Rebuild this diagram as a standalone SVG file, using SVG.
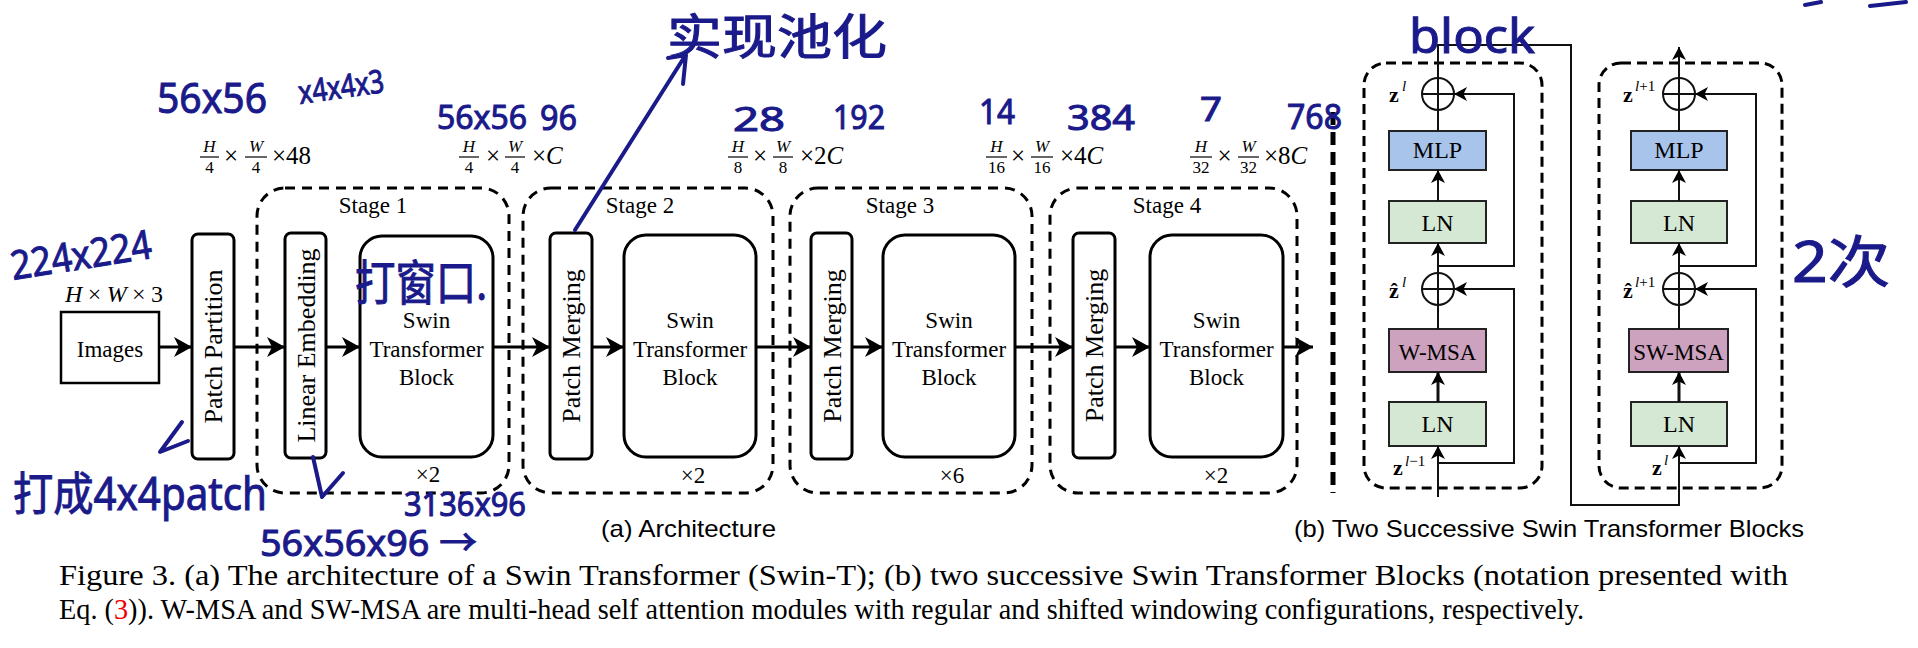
<svg xmlns="http://www.w3.org/2000/svg" width="1918" height="648" viewBox="0 0 1918 648">
<style>
.ser{font-family:"Liberation Serif","Times New Roman",serif;fill:#000}
.it{font-style:italic}
.sans{font-family:"Liberation Sans",Arial,sans-serif;fill:#000}
.box{fill:#fff;stroke:#000;stroke-width:3}
.stage{fill:none;stroke:#000;stroke-width:3;stroke-dasharray:10 7}
.blk{fill:none;stroke:#000;stroke-width:3;stroke-dasharray:10 6}
.bar{stroke:#000;stroke-width:1.2}
.thick{fill:none;stroke:#000;stroke-width:3}
.thin{fill:none;stroke:#111;stroke-width:2}
.sbox{stroke:#222;stroke-width:2}
.mlp{fill:#a9c4eb}
.ln{fill:#d5e8d4}
.msa{fill:#cda2be}
.hw{fill:#1a1a8a;stroke:#1a1a8a;stroke-width:1;font-family:"Noto Sans","Noto Sans CJK SC",sans-serif}
.hwl{fill:none;stroke:#1a1a8a;stroke-width:4;stroke-linecap:round;stroke-linejoin:round}
</style>
<defs>
<marker id="ah" viewBox="0 -10 18 20" refX="18" refY="0" markerWidth="18" markerHeight="20" markerUnits="userSpaceOnUse" orient="auto"><path d="M0,-10 L18,0 L0,10 L5,0 z" fill="#000"/></marker>
<marker id="ahs" viewBox="0 -7 13 14" refX="13" refY="0" markerWidth="13" markerHeight="14" markerUnits="userSpaceOnUse" orient="auto"><path d="M0,-7 L13,0 L0,7 L3.5,0 z" fill="#000"/></marker>
</defs>
<rect width="1918" height="648" fill="#fff"/>

<!-- dimension labels -->
<g id="dims" class="ser" font-size="25">
  <g id="dim0"><text x="114" y="302" font-size="24" textLength="98" lengthAdjust="spacing" text-anchor="middle"><tspan class="it">H</tspan>×<tspan class="it">W</tspan>×3</text></g>
  <g id="dim1">
    <text x="209.5" y="152" font-size="17" class="it" text-anchor="middle">H</text><line class="bar" x1="200" y1="157" x2="219" y2="157"/><text x="209.5" y="173" font-size="17" text-anchor="middle">4</text>
    <text x="231" y="164" text-anchor="middle">×</text>
    <text x="256" y="152" font-size="17" class="it" text-anchor="middle">W</text><line class="bar" x1="245" y1="157" x2="267" y2="157"/><text x="256" y="173" font-size="17" text-anchor="middle">4</text>
    <text x="272" y="164">×48</text>
  </g>
  <g id="dim2">
    <text x="469" y="152" font-size="17" class="it" text-anchor="middle">H</text><line class="bar" x1="459" y1="157" x2="479" y2="157"/><text x="469" y="173" font-size="17" text-anchor="middle">4</text>
    <text x="493" y="164" text-anchor="middle">×</text>
    <text x="515" y="152" font-size="17" class="it" text-anchor="middle">W</text><line class="bar" x1="505" y1="157" x2="525" y2="157"/><text x="515" y="173" font-size="17" text-anchor="middle">4</text>
    <text x="532" y="164">×<tspan class="it">C</tspan></text>
  </g>
  <g id="dim3">
    <text x="738" y="152" font-size="17" class="it" text-anchor="middle">H</text><line class="bar" x1="728" y1="157" x2="748" y2="157"/><text x="738" y="173" font-size="17" text-anchor="middle">8</text>
    <text x="760" y="164" text-anchor="middle">×</text>
    <text x="783" y="152" font-size="17" class="it" text-anchor="middle">W</text><line class="bar" x1="773" y1="157" x2="793" y2="157"/><text x="783" y="173" font-size="17" text-anchor="middle">8</text>
    <text x="800" y="164">×2<tspan class="it">C</tspan></text>
  </g>
  <g id="dim4">
    <text x="996.5" y="152" font-size="17" class="it" text-anchor="middle">H</text><line class="bar" x1="986" y1="157" x2="1007" y2="157"/><text x="996.5" y="173" font-size="17" text-anchor="middle">16</text>
    <text x="1018" y="164" text-anchor="middle">×</text>
    <text x="1042" y="152" font-size="17" class="it" text-anchor="middle">W</text><line class="bar" x1="1031" y1="157" x2="1053" y2="157"/><text x="1042" y="173" font-size="17" text-anchor="middle">16</text>
    <text x="1060" y="164">×4<tspan class="it">C</tspan></text>
  </g>
  <g id="dim5">
    <text x="1201" y="152" font-size="17" class="it" text-anchor="middle">H</text><line class="bar" x1="1190" y1="157" x2="1212" y2="157"/><text x="1201" y="173" font-size="17" text-anchor="middle">32</text>
    <text x="1224.5" y="164" text-anchor="middle">×</text>
    <text x="1248.5" y="152" font-size="17" class="it" text-anchor="middle">W</text><line class="bar" x1="1238" y1="157" x2="1259" y2="157"/><text x="1248.5" y="173" font-size="17" text-anchor="middle">32</text>
    <text x="1264" y="164">×8<tspan class="it">C</tspan></text>
  </g>
</g>

<!-- stages -->
<g id="stage1"><rect class="stage" x="257" y="188" width="252" height="305" rx="28"/><text class="ser" x="373" y="213" font-size="23" text-anchor="middle">Stage 1</text><text class="ser" x="428" y="482" font-size="23" text-anchor="middle">×2</text></g>
<g id="stage2"><rect class="stage" x="523" y="188" width="250" height="305" rx="28"/><text class="ser" x="640" y="213" font-size="23" text-anchor="middle">Stage 2</text><text class="ser" x="693" y="483" font-size="23" text-anchor="middle">×2</text></g>
<g id="stage3"><rect class="stage" x="790" y="188" width="242" height="305" rx="28"/><text class="ser" x="900" y="213" font-size="23" text-anchor="middle">Stage 3</text><text class="ser" x="952" y="483" font-size="23" text-anchor="middle">×6</text></g>
<g id="stage4"><rect class="stage" x="1050" y="188" width="247" height="305" rx="28"/><text class="ser" x="1167" y="213" font-size="23" text-anchor="middle">Stage 4</text><text class="ser" x="1216" y="483" font-size="23" text-anchor="middle">×2</text></g>

<!-- nodes left -->
<g id="images"><rect x="61" y="312" width="98" height="71" fill="#fff" stroke="#000" stroke-width="2.5"/><text class="ser" x="110" y="357" font-size="23" text-anchor="middle">Images</text></g>
<g id="patch-partition"><rect class="box" x="192" y="234" width="42" height="225" rx="6"/><text class="ser" font-size="26" text-anchor="middle" transform="translate(213,346.5) rotate(-90)" y="9">Patch Partition</text></g>
<g id="linear-embedding"><rect class="box" x="285" y="233" width="41" height="225" rx="6"/><text class="ser" font-size="26" text-anchor="middle" transform="translate(305.5,345.5) rotate(-90)" y="9">Linear Embedding</text></g>
<g id="swin1"><rect class="box" x="360" y="236" width="133" height="221" rx="22"/><text class="ser" font-size="23" text-anchor="middle"><tspan x="426.5" y="328">Swin</tspan><tspan x="426.5" y="357">Transformer</tspan><tspan x="426.5" y="385">Block</tspan></text></g>
<g id="merge2"><rect class="box" x="550" y="233" width="42" height="226" rx="6"/><text class="ser" font-size="26" text-anchor="middle" transform="translate(571,346) rotate(-90)" y="9">Patch Merging</text></g>
<g id="swin2"><rect class="box" x="624" y="235" width="132" height="222" rx="22"/><text class="ser" font-size="23" text-anchor="middle"><tspan x="690" y="328">Swin</tspan><tspan x="690" y="357">Transformer</tspan><tspan x="690" y="385">Block</tspan></text></g>
<g id="merge3"><rect class="box" x="811" y="233" width="41" height="226" rx="6"/><text class="ser" font-size="26" text-anchor="middle" transform="translate(831.5,346) rotate(-90)" y="9">Patch Merging</text></g>
<g id="swin3"><rect class="box" x="883" y="235" width="132" height="222" rx="22"/><text class="ser" font-size="23" text-anchor="middle"><tspan x="949" y="328">Swin</tspan><tspan x="949" y="357">Transformer</tspan><tspan x="949" y="385">Block</tspan></text></g>
<g id="merge4"><rect class="box" x="1073" y="233" width="42" height="225" rx="6"/><text class="ser" font-size="26" text-anchor="middle" transform="translate(1094,345.5) rotate(-90)" y="9">Patch Merging</text></g>
<g id="swin4"><rect class="box" x="1150" y="235" width="133" height="222" rx="22"/><text class="ser" font-size="23" text-anchor="middle"><tspan x="1216.5" y="328">Swin</tspan><tspan x="1216.5" y="357">Transformer</tspan><tspan x="1216.5" y="385">Block</tspan></text></g>

<g id="separator"><line x1="1333" y1="112" x2="1333" y2="493" stroke="#000" stroke-width="5" stroke-dasharray="13 7"/></g>

<!-- right panel nodes -->
<g id="block1"><rect class="blk" x="1364" y="63" width="178" height="425" rx="22"/></g>
<g id="block2"><rect class="blk" x="1599" y="63" width="183" height="425" rx="22"/></g>
<g id="mlp1"><rect class="sbox mlp" x="1389" y="131" width="97" height="39"/><text class="ser" x="1437.5" y="158" font-size="24" text-anchor="middle">MLP</text></g>
<g id="ln1a"><rect class="sbox ln" x="1389" y="201" width="97" height="42"/><text class="ser" x="1437.5" y="231" font-size="24" text-anchor="middle">LN</text></g>
<g id="wmsa"><rect class="sbox msa" x="1389" y="329" width="97" height="43"/><text class="ser" x="1437.5" y="360" font-size="23" text-anchor="middle">W-MSA</text></g>
<g id="ln1b"><rect class="sbox ln" x="1389" y="402" width="97" height="44"/><text class="ser" x="1437.5" y="432" font-size="24" text-anchor="middle">LN</text></g>
<g id="mlp2"><rect class="sbox mlp" x="1631" y="131" width="96" height="39"/><text class="ser" x="1679" y="158" font-size="24" text-anchor="middle">MLP</text></g>
<g id="ln2a"><rect class="sbox ln" x="1631" y="201" width="96" height="42"/><text class="ser" x="1679" y="231" font-size="24" text-anchor="middle">LN</text></g>
<g id="swmsa"><rect class="sbox msa" x="1629" y="329" width="99" height="43"/><text class="ser" x="1678.5" y="360" font-size="23" text-anchor="middle">SW-MSA</text></g>
<g id="ln2b"><rect class="sbox ln" x="1631" y="402" width="96" height="44"/><text class="ser" x="1679" y="432" font-size="24" text-anchor="middle">LN</text></g>
<g id="add1a"><circle cx="1438" cy="94" r="16" fill="none" stroke="#111" stroke-width="2"/><path class="thin" d="M1422,94 H1454 M1438,78 V110"/></g>
<g id="add1b"><circle cx="1438" cy="289" r="16" fill="none" stroke="#111" stroke-width="2"/><path class="thin" d="M1422,289 H1454 M1438,273 V305"/></g>
<g id="add2a"><circle cx="1679" cy="94" r="16" fill="none" stroke="#111" stroke-width="2"/><path class="thin" d="M1663,94 H1695 M1679,78 V110"/></g>
<g id="add2b"><circle cx="1679" cy="289" r="16" fill="none" stroke="#111" stroke-width="2"/><path class="thin" d="M1663,289 H1695 M1679,273 V305"/></g>
<g id="zlabels" class="ser">
  <text x="1389" y="102" font-size="22" font-weight="bold">z</text><text x="1402" y="91" font-size="15" class="it">l</text>
  <text x="1389" y="298" font-size="22" font-weight="bold" font-family="Liberation Serif, DejaVu Serif, serif">ẑ</text><text x="1402" y="287" font-size="15" class="it">l</text>
  <text x="1393" y="475" font-size="22" font-weight="bold">z</text><text x="1405" y="466" font-size="15"><tspan class="it">l</tspan>−1</text>
  <text x="1623" y="102" font-size="22" font-weight="bold">z</text><text x="1635" y="91" font-size="15"><tspan class="it">l</tspan>+1</text>
  <text x="1623" y="298" font-size="22" font-weight="bold" font-family="Liberation Serif, DejaVu Serif, serif">ẑ</text><text x="1635" y="287" font-size="15"><tspan class="it">l</tspan>+1</text>
  <text x="1652" y="475" font-size="22" font-weight="bold">z</text><text x="1664" y="465" font-size="15" class="it">l</text>
</g>

<!-- connectors -->
<g id="connectors">
  <g class="thick" marker-end="url(#ah)">
    <line x1="159" y1="347" x2="192" y2="347"/>
    <line x1="234" y1="347" x2="285" y2="347"/>
    <line x1="326" y1="347" x2="360" y2="347"/>
    <line x1="493" y1="347" x2="550" y2="347"/>
    <line x1="592" y1="347" x2="624" y2="347"/>
    <line x1="756" y1="347" x2="811" y2="347"/>
    <line x1="852" y1="347" x2="883" y2="347"/>
    <line x1="1015" y1="347" x2="1073" y2="347"/>
    <line x1="1115" y1="347" x2="1150" y2="347"/>
    <line x1="1283" y1="347" x2="1313" y2="347"/>
  </g>
  <g class="thin">
    <path d="M1438,497 V446" marker-end="url(#ahs)"/>
    <path d="M1438,402 V372" stroke-width="3" marker-end="url(#ahs)"/>
    <path d="M1438,329 V305"/>
    <path d="M1438,273 V243" marker-end="url(#ahs)"/>
    <path d="M1438,201 V170" marker-end="url(#ahs)"/>
    <path d="M1438,131 V110"/>
    <path d="M1438,266 H1514 V94 H1454" marker-end="url(#ahs)"/>
    <path d="M1438,463 H1514 V289 H1454" marker-end="url(#ahs)"/>
    <path d="M1438,78 V45 H1571 V505 H1679 V446" marker-end="url(#ahs)"/>
    <path d="M1679,402 V372" stroke-width="3" marker-end="url(#ahs)"/>
    <path d="M1679,329 V305"/>
    <path d="M1679,273 V243" marker-end="url(#ahs)"/>
    <path d="M1679,201 V170" marker-end="url(#ahs)"/>
    <path d="M1679,131 V110"/>
    <path d="M1679,78 V47" marker-end="url(#ahs)"/>
    <path d="M1679,266 H1756 V94 H1695" marker-end="url(#ahs)"/>
    <path d="M1679,463 H1756 V289 H1695" marker-end="url(#ahs)"/>
  </g>
</g>

<!-- captions -->
<g id="captions">
  <text class="sans" x="601" y="537" font-size="24" textLength="175" lengthAdjust="spacingAndGlyphs">(a) Architecture</text>
  <text class="sans" x="1294" y="537" font-size="24" textLength="510" lengthAdjust="spacingAndGlyphs">(b) Two Successive Swin Transformer Blocks</text>
  <text class="ser" x="59" y="585" font-size="29" textLength="1729" lengthAdjust="spacingAndGlyphs">Figure 3. (a) The architecture of a Swin Transformer (Swin-T); (b) two successive Swin Transformer Blocks (notation presented with</text>
  <text class="ser" x="59" y="619" font-size="29" textLength="1525" lengthAdjust="spacingAndGlyphs">Eq. (<tspan fill="#e00">3</tspan>)). W-MSA and SW-MSA are multi-head self attention modules with regular and shifted windowing configurations, respectively.</text>
</g>

<!-- handwritten annotations -->
<g id="annotations">
  <text class="hw" x="157" y="113" font-size="42" textLength="110" lengthAdjust="spacingAndGlyphs">56x56</text>
  <text class="hw" x="300" y="104" font-size="32" textLength="86" lengthAdjust="spacingAndGlyphs" transform="rotate(-8 300 104)">x4x4x3</text>
  <text class="hw" x="437" y="129" font-size="32" textLength="90" lengthAdjust="spacingAndGlyphs">56x56</text>
  <text class="hw" x="540" y="130" font-size="34" textLength="37" lengthAdjust="spacingAndGlyphs">96</text>
  <text class="hw" x="667" y="54" font-size="48" textLength="220" lengthAdjust="spacingAndGlyphs">实现池化</text>
  <path class="hwl" d="M575,230 L685,56 M668,58 L686,55 L683,84"/>
  <text class="hw" x="733" y="131" font-size="32" textLength="52" lengthAdjust="spacingAndGlyphs">28</text>
  <text class="hw" x="833" y="129" font-size="32" textLength="52" lengthAdjust="spacingAndGlyphs">192</text>
  <text class="hw" x="979" y="124" font-size="34" textLength="36" lengthAdjust="spacingAndGlyphs">14</text>
  <text class="hw" x="1067" y="130" font-size="34" textLength="68" lengthAdjust="spacingAndGlyphs">384</text>
  <text class="hw" x="1200" y="121" font-size="32" textLength="22" lengthAdjust="spacingAndGlyphs">7</text>
  <text class="hw" x="1287" y="129" font-size="34" textLength="55" lengthAdjust="spacingAndGlyphs">768</text>
  <text class="hw" x="13" y="280" font-size="40" textLength="142" lengthAdjust="spacingAndGlyphs" transform="rotate(-9 13 280)">224x224</text>
  <text class="hw" x="355" y="300" font-size="48" textLength="132" lengthAdjust="spacingAndGlyphs">打窗口.</text>
  <path class="hwl" d="M182,422 L160,452 L188,441"/>
  <text class="hw" x="13" y="510" font-size="46" textLength="254" lengthAdjust="spacingAndGlyphs">打成4x4patch</text>
  <path class="hwl" d="M313,457 L322,497 L343,473"/>
  <text class="hw" x="404" y="516" font-size="32" textLength="122" lengthAdjust="spacingAndGlyphs">3136x96</text>
  <text class="hw" x="260" y="556" font-size="36" textLength="217" lengthAdjust="spacingAndGlyphs">56x56x96 →</text>
  <text class="hw" x="1409" y="53" font-size="48" textLength="126" lengthAdjust="spacingAndGlyphs">block</text>
  <text class="hw" x="1792" y="282" font-size="56" textLength="98" lengthAdjust="spacingAndGlyphs">2次</text>
  <path class="hwl" d="M1805,5 L1821,2 M1870,6 L1906,2"/>
</g>
</svg>
